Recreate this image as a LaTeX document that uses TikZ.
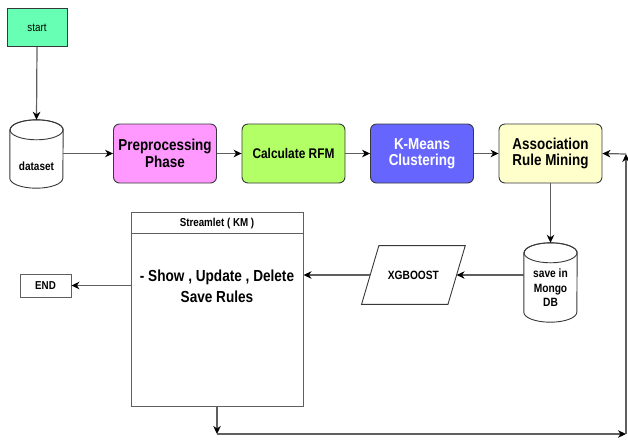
\documentclass[tikz,border=0pt]{standalone}
\usepackage{fontspec}
\setmainfont{Liberation Sans}[FakeStretch=0.85]
\usetikzlibrary{arrows.meta}
\definecolor{startc}{RGB}{102,255,179}
\definecolor{ppc}{RGB}{255,153,255}
\definecolor{rfmc}{RGB}{179,255,102}
\definecolor{kmc}{RGB}{102,102,255}
\definecolor{armc}{RGB}{255,255,204}
\definecolor{bordc}{RGB}{54,57,59}
\definecolor{linec}{RGB}{95,95,95}
\tikzset{
  procbox/.style={draw=bordc, line width=0.9pt, rounded corners=6pt, minimum width=103pt, minimum height=59pt, inner sep=0pt, align=center, font=\bfseries\fontsize{15.8}{16.5}\selectfont},
  arr/.style={draw=linec, line width=1.2pt, -{Stealth[length=8pt,width=7.5pt,inset=2.5pt,color=black]}},
  cylline/.style={draw=bordc, line width=0.9pt},
  plainbox/.style={draw=bordc, line width=0.9pt, inner sep=0pt},
  smalltext/.style={font=\bfseries\fontsize{11.8}{13}\selectfont}
}
\begin{document}
\begin{tikzpicture}[x=1pt,y=-1pt]
\useasboundingbox (0,0) rectangle (628,440);
% start
\node[plainbox, fill=startc, minimum width=60pt, minimum height=38pt, font=\fontsize{11.5}{13}\selectfont] (start) at (37,27.5) {start};
% dataset cylinder
\node[inner sep=0pt, minimum width=53pt, minimum height=68pt] (ds) at (36.5,154) {};
\draw[cylline, fill=white] ([yshift=-10pt]ds.north west) -- ([yshift=10pt]ds.south west)
  arc[start angle=180, end angle=360, x radius=26.5pt, y radius=10pt]
  -- ([yshift=-10pt]ds.north east)
  arc[start angle=0, end angle=180, x radius=26.5pt, y radius=10pt] -- cycle;
\draw[cylline] ([yshift=-10pt]ds.north) ellipse [x radius=26.5pt, y radius=10pt];
\node[smalltext] (dst) at (36.5,166) {dataset};
% process boxes
\node[procbox, fill=ppc] (pp) at (165,153.5) {Preprocessing\\Phase};
\node[procbox, fill=rfmc, font=\bfseries\fontsize{14}{16}\selectfont] (rfm) at (293.5,153.5) {Calculate RFM};
\node[procbox, fill=kmc, text=white] (km) at (422,153.5) {K-Means\\Clustering};
\node[procbox, fill=armc] (arm) at (550.5,153.5) {Association\\Rule Mining};
% mongo cylinder
\node[inner sep=0pt, minimum width=53pt, minimum height=79pt] (mg) at (550.5,282.5) {};
\draw[cylline, fill=white] ([yshift=-10pt]mg.north west) -- ([yshift=10pt]mg.south west)
  arc[start angle=180, end angle=360, x radius=26.5pt, y radius=10pt]
  -- ([yshift=-10pt]mg.north east)
  arc[start angle=0, end angle=180, x radius=26.5pt, y radius=10pt] -- cycle;
\draw[cylline] ([yshift=-10pt]mg.north) ellipse [x radius=26.5pt, y radius=10pt];
\node[align=center, font=\bfseries\fontsize{12}{14.5}\selectfont] (mgt) at (550.5,288) {save in\\Mongo\\DB};
% xgboost parallelogram
\node[inner sep=0pt, minimum width=86pt, minimum height=58.3pt, font=\bfseries\fontsize{12}{14}\selectfont] (xg) at (413.4,275) {XGBOOST};
\draw[cylline] ([xshift=8.65pt]xg.north west) -- ([xshift=8.65pt]xg.north east) -- ([xshift=-8.65pt]xg.south east) -- ([xshift=-8.65pt]xg.south west) -- cycle;
% streamlit box
\node[draw=linec, line width=1pt, minimum width=172pt, minimum height=194pt, inner sep=0pt] (stl) at (217,309) {};
\draw[draw=linec, line width=1pt] ([yshift=-22pt]stl.north west) -- ([yshift=-22pt]stl.north east);
\node[font=\bfseries\fontsize{11.5}{13}\selectfont] (stlt) at (217,223.5) {Streamlet ( KM )};
\node[align=center, font=\bfseries\fontsize{16}{21}\selectfont] (stlb) at (217,286.5) {- Show , Update , Delete\\Save Rules};
% END
\node[plainbox, draw=linec, minimum width=51pt, minimum height=23pt, font=\bfseries\fontsize{11.5}{13}\selectfont] (endn) at (45.5,285.5) {END};
% loop coordinates
\coordinate (c1) at (217,434);
\coordinate (c2) at (626,434);
\coordinate (c3) at (626,154);
% connectors
\draw[arr] (start.south) -- (ds.north);
\draw[arr] (ds.east |- pp.west) -- (pp.west);
\draw[arr] (pp.east) -- (rfm.west);
\draw[arr] (rfm.east) -- (km.west);
\draw[arr] (km.east) -- (arm.west);
\draw[arr] (arm.south) -- (mg.north);
\draw[arr] (mg.west |- xg.east) -- (xg.east);
\draw[arr] (xg.west) -- (xg.west -| stl.east);
\draw[arr] (endn.east -| stl.west) -- (endn.east);
\draw[arr] (stl.south) -- (c1);
\draw[arr] (c1) -- (c2);
\draw[arr] (c2) -- (c3);
\draw[arr] (c3) -- (arm.east);
\end{tikzpicture}
\end{document}
